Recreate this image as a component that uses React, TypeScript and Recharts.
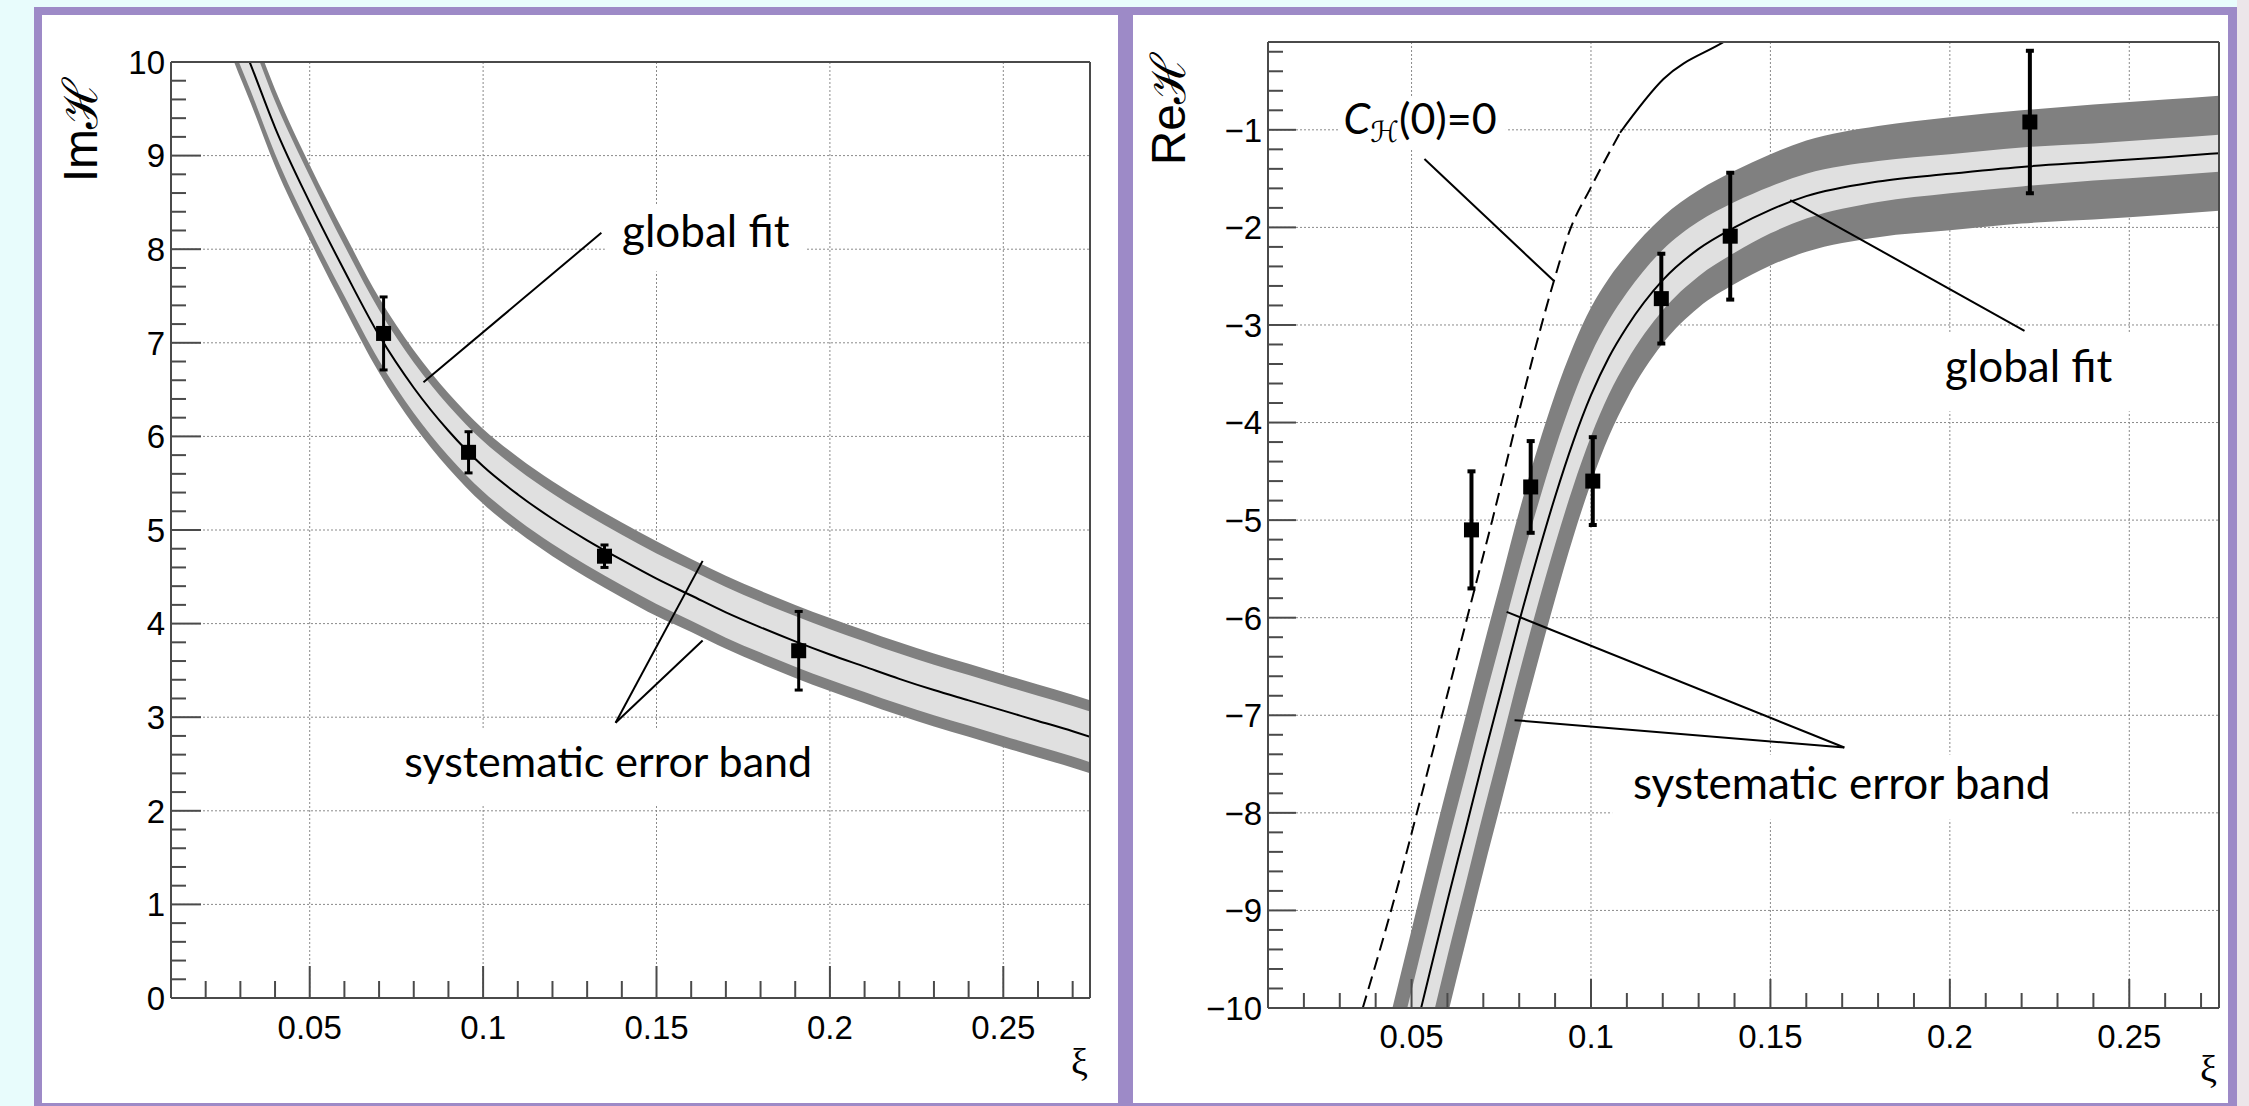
import React from "react";
import {
  ComposedChart,
  Area,
  Line,
  Scatter,
  ErrorBar,
  XAxis,
  YAxis,
  CartesianGrid,
  ReferenceLine,
  ReferenceArea,
} from "recharts";

// ---- Im H: global fit with its systematic band ----
const imXi = [0.025, 0.028, 0.033, 0.04, 0.05, 0.06, 0.07, 0.08, 0.09, 0.1, 0.11, 0.12, 0.13, 0.14, 0.15, 0.16, 0.17, 0.18, 0.19, 0.2, 0.21, 0.22, 0.23, 0.24, 0.25, 0.26, 0.27, 0.275];
const imFit = [10.74, 10.43, 9.97, 9.3, 8.5, 7.77, 7.08, 6.52, 6.06, 5.68, 5.38, 5.12, 4.89, 4.68, 4.48, 4.3, 4.12, 3.96, 3.81, 3.67, 3.54, 3.41, 3.29, 3.18, 3.07, 2.96, 2.85, 2.79];
const imBandOuter = [0.41, 0.41, 0.41, 0.41, 0.4, 0.4, 0.4, 0.4, 0.4, 0.4, 0.4, 0.4, 0.4, 0.4, 0.4, 0.39, 0.39, 0.39, 0.39, 0.39, 0.39, 0.39, 0.39, 0.39, 0.39, 0.39, 0.39, 0.39];
const imBandInner = [0.28, 0.28, 0.28, 0.28, 0.28, 0.27, 0.27, 0.27, 0.27, 0.27, 0.27, 0.27, 0.27, 0.27, 0.27, 0.27, 0.27, 0.27, 0.27, 0.27, 0.27, 0.27, 0.27, 0.27, 0.27, 0.27, 0.27, 0.27];

// Im H extracted points
const imPtXi = [0.0713, 0.0958, 0.135, 0.191];
const imPtVal = [7.1, 5.83, 4.72, 3.71];
const imPtErr = [0.39, 0.22, 0.12, 0.42];

// ---- Re H: global fit with its systematic band ----
const reXi = [0.044, 0.05, 0.055, 0.06, 0.065, 0.07, 0.075, 0.08, 0.085, 0.09, 0.095, 0.1, 0.105, 0.11, 0.12, 0.13, 0.14, 0.15, 0.16, 0.18, 0.2, 0.22, 0.24, 0.26, 0.275];
const reFit = [-11.3, -10.4, -9.65, -8.9, -8.18, -7.45, -6.75, -6.04, -5.38, -4.76, -4.2, -3.72, -3.33, -3.02, -2.54, -2.22, -2.0, -1.82, -1.68, -1.53, -1.45, -1.38, -1.33, -1.28, -1.24];
const reBandOuter = [1.2, 1.2, 1.2, 1.18, 1.16, 1.15, 1.14, 1.13, 1.1, 1.05, 0.98, 0.9, 0.81, 0.74, 0.65, 0.6, 0.58, 0.57, 0.57, 0.57, 0.58, 0.58, 0.59, 0.59, 0.59];
const reBandInner = [0.58, 0.58, 0.58, 0.57, 0.56, 0.55, 0.54, 0.53, 0.51, 0.49, 0.46, 0.42, 0.38, 0.35, 0.31, 0.28, 0.26, 0.24, 0.23, 0.21, 0.2, 0.2, 0.19, 0.19, 0.19];

// C_H(0)=0 curve: dashed lower part, solid upper part
const reDashXi = [0.0364, 0.0443, 0.0515, 0.0585, 0.0655, 0.0725, 0.0792, 0.0839, 0.0895, 0.0942, 0.0997, 0.1081];
const reDashVal = [-10, -9, -8, -7, -6, -5, -4, -3.32, -2.57, -2.02, -1.61, -1.03];
const reSolidXi = [0.1081, 0.1202, 0.1374, 0.14];
const reSolidVal = [-1.03, -0.48, -0.09, -0.03];

// Re H extracted points
const rePtXi = [0.0667, 0.0832, 0.1005, 0.1196, 0.1388, 0.2223];
const rePtVal = [-5.1, -4.66, -4.6, -2.73, -2.09, -0.92];
const rePtErr = [0.6, 0.47, 0.45, 0.46, 0.65, 0.73];

// axis ticks
const xMajor = [0.05, 0.1, 0.15, 0.2, 0.25];
const imMajor = [0, 1, 2, 3, 4, 5, 6, 7, 8, 9, 10];
const reMajor = [-10, -9, -8, -7, -6, -5, -4, -3, -2, -1];
const xTicks = Array.from({ length: 26 }, (_, i) => (i + 2) / 100);
const imTicks = Array.from({ length: 51 }, (_, i) => i / 5);
const reTicks = Array.from({ length: 50 }, (_, i) => (i - 50) / 5);

const FONT_AXIS = '"Liberation Sans", Arial, Helvetica, sans-serif';
const FONT_NOTE = 'Lato, "Open Sans", "DejaVu Sans", sans-serif';
const FONT_GREEK = '"Liberation Serif", "DejaVu Serif", serif';
const FRAME = "#4a4a4a";
const GRID = "#8a8a8a";
const BAND_DARK = "#808080";
const BAND_LIGHT = "#e0e0e0";
const PURPLE = "#9d8ac7";

const bandRows = (xi: number[], fit: number[], outer: number[], inner: number[]) =>
  xi.map((x, i) => ({
    xi: x,
    fit: fit[i],
    outer: [fit[i] - outer[i], fit[i] + outer[i]],
    inner: [fit[i] - inner[i], fit[i] + inner[i]],
  }));

const curveRows = (xi: number[], val: number[]) => xi.map((x, i) => ({ xi: x, v: val[i] }));
const pointRows = (xi: number[], val: number[], err: number[]) =>
  xi.map((x, i) => ({ xi: x, v: val[i], err: err[i] }));

const imRows = bandRows(imXi, imFit, imBandOuter, imBandInner);
const imPts = pointRows(imPtXi, imPtVal, imPtErr);
const reRows = bandRows(reXi, reFit, reBandOuter, reBandInner);
const rePts = pointRows(rePtXi, rePtVal, rePtErr);
const reDash = curveRows(reDashXi, reDashVal);
const reSolid = curveRows(reSolidXi, reSolidVal);

const isMajor = (v: number, majors: number[]) => majors.some((m) => Math.abs(m - v) < 1e-9);
const fmtX = (v: number) => String(Number(v.toFixed(2)));
const fmtY = (v: number) => (v < 0 ? "\u2212" + Math.abs(v) : String(v));

// ROOT-style ticks: drawn inside the frame, labels only on majors
const xTick = (majors: number[], longLen: number, shortLen: number, labelDy: number) => (p: any) => {
  const v = p.payload.value;
  const major = isMajor(v, majors);
  return (
    <g>
      <line x1={p.x} x2={p.x} y1={p.y} y2={p.y - (major ? longLen : shortLen)} stroke={FRAME} strokeWidth={2} />
      {major && (
        <text x={p.x} y={p.y + labelDy} textAnchor="middle" fontFamily={FONT_AXIS} fontSize={33} fill="#000">
          {fmtX(v)}
        </text>
      )}
    </g>
  );
};

const yTick = (majors: number[], longLen: number, shortLen: number) => (p: any) => {
  const v = p.payload.value;
  const major = isMajor(v, majors);
  return (
    <g>
      <line x1={p.x} x2={p.x + (major ? longLen : shortLen)} y1={p.y} y2={p.y} stroke={FRAME} strokeWidth={2} />
      {major && (
        <text x={p.x - 6} y={p.y} dy="0.36em" textAnchor="end" fontFamily={FONT_AXIS} fontSize={33} fill="#000">
          {fmtY(v)}
        </text>
      )}
    </g>
  );
};

const YTitle = ({ viewBox, text, dx, dy }: any) => {
  const x = viewBox.x + dx;
  const y = viewBox.y + dy;
  return (
    <text x={x} y={y} transform={`rotate(-90, ${x}, ${y})`} textAnchor="end" fontFamily={FONT_AXIS} fontSize={48} fill="#000">
      {text}
    </text>
  );
};

const XTitle = ({ viewBox, dx, dy }: any) => (
  <text x={viewBox.x + viewBox.width + dx} y={viewBox.y + dy} textAnchor="end" fontFamily={FONT_GREEK} fontSize={38} fill="#000">
    ξ
  </text>
);

const square = (size: number) => (p: any) =>
  <rect x={p.cx - size / 2} y={p.cy - size / 2} width={size} height={size} fill="#000" />;

// white box with a text note, covering the grid behind it
const noteBox = (content: React.ReactNode, size: number, baseFrac: number, startPad?: number) => (p: any) => (
  <g>
    <rect x={p.x} y={p.y} width={p.width} height={p.height} fill="#fff" />
    <text
      x={startPad !== undefined ? p.x + startPad : p.x + p.width / 2}
      y={p.y + p.height * baseFrac}
      textAnchor={startPad !== undefined ? "start" : "middle"}
      fontFamily={FONT_NOTE}
      fontSize={size}
      fill="#000"
    >
      {content}
    </text>
  </g>
);

function ImPanel() {
  return (
    <ComposedChart width={1076} height={1088} margin={{ top: 47, right: 28, bottom: 0, left: 0 }}>
      <CartesianGrid horizontalValues={imMajor} verticalValues={xMajor} stroke={GRID} strokeDasharray="2 2" />
      <XAxis
        type="number"
        dataKey="xi"
        domain={[0.01, 0.275]}
        allowDataOverflow
        ticks={xTicks}
        interval={0}
        tickSize={0}
        tickMargin={0}
        tickLine={false}
        tick={xTick(xMajor, 32, 17, 41)}
        axisLine={{ stroke: FRAME, strokeWidth: 2 }}
        height={105}
        label={<XTitle dx={-2} dy={77} />}
      />
      <YAxis
        type="number"
        domain={[0, 10]}
        allowDataOverflow
        ticks={imTicks}
        interval={0}
        tickSize={0}
        tickMargin={0}
        tickLine={false}
        tick={yTick(imMajor, 30, 15)}
        axisLine={{ stroke: FRAME, strokeWidth: 2 }}
        width={129}
        label={<YTitle text="Imℋ" dx={55} dy={16} />}
      />
      <Area data={imRows} dataKey="outer" type="monotone" stroke="none" fill={BAND_DARK} fillOpacity={1} isAnimationActive={false} />
      <Area data={imRows} dataKey="inner" type="monotone" stroke="none" fill={BAND_LIGHT} fillOpacity={1} isAnimationActive={false} />
      <Line data={imRows} dataKey="fit" type="monotone" stroke="#000" strokeWidth={2} dot={false} isAnimationActive={false} />
      <ReferenceLine y={10} stroke={FRAME} strokeWidth={2} />
      <ReferenceLine x={0.275} stroke={FRAME} strokeWidth={2} />
      <ReferenceLine segment={[{ x: 0.1341, y: 8.175 }, { x: 0.0828, y: 6.578 }]} stroke="#000" strokeWidth={2} />
      <ReferenceLine segment={[{ x: 0.1382, y: 2.94 }, { x: 0.1633, y: 4.67 }]} stroke="#000" strokeWidth={2} />
      <ReferenceLine segment={[{ x: 0.1382, y: 2.94 }, { x: 0.1633, y: 3.82 }]} stroke="#000" strokeWidth={2} />
      <ReferenceArea x1={0.1351} x2={0.1933} y1={7.762} y2={8.483} shape={noteBox("global fit", 44, 0.637)} />
      <ReferenceArea x1={0.0745} x2={0.1976} y1={2.051} y2={2.885} shape={noteBox("systematic error band", 43, 0.63)} />
      <Scatter data={imPts} dataKey="v" shape={square(15)} isAnimationActive={false}>
        <ErrorBar dataKey="err" direction="y" width={4} strokeWidth={3} stroke="#000" />
      </Scatter>
    </ComposedChart>
  );
}

function RePanel() {
  return (
    <ComposedChart width={1095} height={1088} margin={{ top: 27, right: 9, bottom: 0, left: 0 }}>
      <CartesianGrid horizontalValues={reMajor} verticalValues={xMajor} stroke={GRID} strokeDasharray="2 2" />
      <XAxis
        type="number"
        dataKey="xi"
        domain={[0.01, 0.275]}
        allowDataOverflow
        ticks={xTicks}
        interval={0}
        tickSize={0}
        tickMargin={0}
        tickLine={false}
        tick={xTick(xMajor, 29, 15, 40)}
        axisLine={{ stroke: FRAME, strokeWidth: 2 }}
        height={95}
        label={<XTitle dx={-2} dy={74} />}
      />
      <YAxis
        type="number"
        domain={[-10, -0.1]}
        allowDataOverflow
        ticks={reTicks}
        interval={0}
        tickSize={0}
        tickMargin={0}
        tickLine={false}
        tick={yTick(reMajor, 28, 15)}
        axisLine={{ stroke: FRAME, strokeWidth: 2 }}
        width={135}
        label={<YTitle text="Reℋ" dx={52} dy={11} />}
      />
      <Area data={reRows} dataKey="outer" type="monotone" stroke="none" fill={BAND_DARK} fillOpacity={1} isAnimationActive={false} />
      <Area data={reRows} dataKey="inner" type="monotone" stroke="none" fill={BAND_LIGHT} fillOpacity={1} isAnimationActive={false} />
      <Line data={reRows} dataKey="fit" type="monotone" stroke="#000" strokeWidth={2} dot={false} isAnimationActive={false} />
      <Line data={reDash} dataKey="v" type="monotone" stroke="#000" strokeWidth={2} strokeDasharray="13 7" dot={false} isAnimationActive={false} />
      <Line data={reSolid} dataKey="v" type="monotone" stroke="#000" strokeWidth={2} dot={false} isAnimationActive={false} />
      <ReferenceLine y={-0.1} stroke={FRAME} strokeWidth={2} />
      <ReferenceLine x={0.275} stroke={FRAME} strokeWidth={2} />
      <ReferenceLine segment={[{ x: 0.0536, y: -1.3 }, { x: 0.0897, y: -2.55 }]} stroke="#000" strokeWidth={2} />
      <ReferenceLine segment={[{ x: 0.2208, y: -3.06 }, { x: 0.1555, y: -1.72 }]} stroke="#000" strokeWidth={2} />
      <ReferenceLine segment={[{ x: 0.1706, y: -7.33 }, { x: 0.0765, y: -5.94 }]} stroke="#000" strokeWidth={2} />
      <ReferenceLine segment={[{ x: 0.1706, y: -7.33 }, { x: 0.0787, y: -7.05 }]} stroke="#000" strokeWidth={2} />
      <ReferenceArea
        x1={0.0299}
        x2={0.0763}
        y1={-1.198}
        y2={-0.665}
        shape={noteBox(
          <>
            <tspan fontStyle="italic">C</tspan>
            <tspan fontSize={29} dy={8}>ℋ</tspan>
            <tspan dy={-8}>(0)=0</tspan>
          </>,
          43,
          0.71,
          4,
        )}
      />
      <ReferenceArea x1={0.1933} x2={0.2506} y1={-3.885} y2={-3.075} shape={noteBox("global fit", 44, 0.633)} />
      <ReferenceArea x1={0.1059} x2={0.2338} y1={-8.07} y2={-7.403} shape={noteBox("systematic error band", 44, 0.68)} />
      <Scatter data={rePts} dataKey="v" shape={square(15)} isAnimationActive={false}>
        <ErrorBar dataKey="err" direction="y" width={4} strokeWidth={4} stroke="#000" />
      </Scatter>
    </ComposedChart>
  );
}

export default function App() {
  return (
    <div style={{ position: "absolute", left: 0, top: 0, width: 2249, height: 1106, background: "#e8fcfc", overflow: "hidden" }}>
      <div style={{ position: "absolute", left: 2237, top: 0, width: 12, height: 1106, background: "#ece6ea" }} />
      <div style={{ position: "absolute", left: 34, top: 7, width: 2203, height: 1110, background: PURPLE }} />
      <div style={{ position: "absolute", left: 42, top: 15, width: 1076, height: 1088, background: "#fff" }}>
        <ImPanel />
      </div>
      <div style={{ position: "absolute", left: 1133, top: 15, width: 1095, height: 1088, background: "#fff" }}>
        <RePanel />
      </div>
    </div>
  );
}
